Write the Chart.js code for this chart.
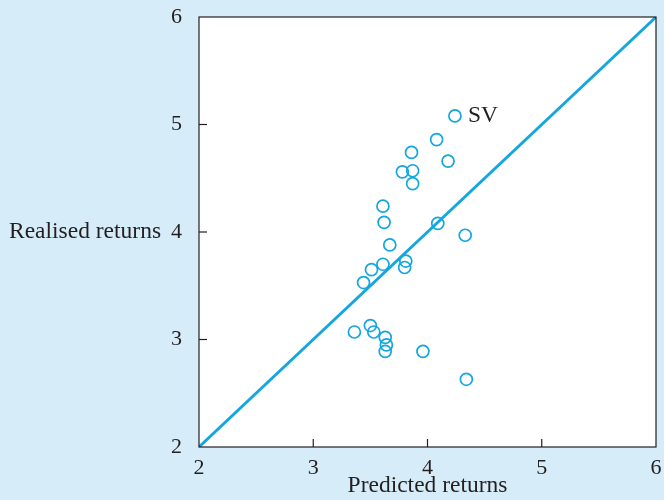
<!DOCTYPE html>
<html>
<head>
<meta charset="utf-8">
<script src="https://cdn.jsdelivr.net/npm/chart.js@4/dist/chart.umd.min.js"></script>
<style>
  html, body { margin: 0; padding: 0; background: #d6ecf9; }
  #wrap { width: 664px; height: 500px; }
</style>
</head>
<body>
<div id="wrap"><canvas id="chart" width="664" height="500"></canvas></div>
<script>
// values
const predicted = [4.24, 4.08, 3.86, 4.18, 3.78, 3.87, 3.87, 3.61, 3.62, 4.09, 4.33, 3.67, 3.81, 3.80, 3.61, 3.51, 3.44, 3.36, 3.50, 3.53, 3.63, 3.64, 3.63, 3.96, 4.34]
const realised = [5.08, 4.86, 4.74, 4.66, 4.56, 4.57, 4.45, 4.24, 4.09, 4.08, 3.97, 3.88, 3.73, 3.67, 3.70, 3.65, 3.53, 3.07, 3.13, 3.07, 3.02, 2.95, 2.89, 2.89, 2.63]
const pointNames = ["SV"]
const tickValues = [2, 3, 4, 5, 6]
const diagonal = [2, 6]

const blue = "#13a6df"
const ink = "#231f20"
const serif = "'Liberation Serif', 'DejaVu Serif', serif"

const points = predicted.map((x, i) => ({ x: x, y: realised[i] }))

const framePlugin = {
  id: "frame",
  beforeDraw(chart) {
    const { ctx, chartArea: a } = chart
    ctx.save()
    ctx.fillStyle = "#ffffff"
    ctx.fillRect(a.left, a.top, a.right - a.left, a.bottom - a.top)
    ctx.restore()
  },
  afterDraw(chart) {
    const { ctx, chartArea: a, scales } = chart
    ctx.save()
    ctx.strokeStyle = ink
    ctx.lineWidth = 1.2
    ctx.strokeRect(a.left, a.top, a.right - a.left, a.bottom - a.top)

    // inward ticks
    tickValues.slice(1, -1).forEach(v => {
      const px = scales.x.getPixelForValue(v)
      ctx.beginPath()
      ctx.moveTo(px, a.bottom)
      ctx.lineTo(px, a.bottom - 8)
      ctx.stroke()
      const py = scales.y.getPixelForValue(v)
      ctx.beginPath()
      ctx.moveTo(a.left, py)
      ctx.lineTo(a.left + 8, py)
      ctx.stroke()
    })

    // horizontal y title
    ctx.fillStyle = ink
    ctx.font = "23.5px " + serif
    ctx.textAlign = "left"
    ctx.textBaseline = "middle"
    ctx.fillText("Realised returns", 9, scales.y.getPixelForValue(4))

    // point name
    const sv = chart.getDatasetMeta(0).data[0]
    ctx.fillText(pointNames[0], sv.x + 13, sv.y)
    ctx.restore()
  }
}

new Chart(document.querySelector("#chart"), {
  type: "scatter",
  data: {
    datasets: [
      {
        data: points,
        pointStyle: "circle",
        pointRadius: 6,
        pointBorderWidth: 1.7,
        borderColor: blue,
        backgroundColor: "rgba(255,255,255,0)",
      },
      {
        type: "line",
        data: diagonal.map(v => ({ x: v, y: v })),
        borderColor: blue,
        borderWidth: 2.8,
        pointRadius: 0,
        fill: false,
      },
    ]
  },
  plugins: [framePlugin],
  options: {
    responsive: false,
    animation: false,
    layout: { padding: { top: 17, right: 8, left: 0, bottom: 0 } },
    plugins: {
      legend: { display: false },
      tooltip: { enabled: false },
    },
    scales: {
      x: {
        type: "linear",
        min: 2,
        max: 6,
        afterFit: scale => {
          scale.height = 53
          scale.paddingLeft = 0
          scale.paddingRight = 0
        },
        afterBuildTicks: scale => { scale.ticks = tickValues.map(v => ({ value: v })) },
        grid: { display: false },
        border: { display: false },
        ticks: { color: ink, font: { family: serif, size: 22 }, padding: 0 },
        title: { display: true, text: "Predicted returns", color: ink, font: { family: serif, size: 23.5 }, padding: { top: -3, bottom: 0 } },
      },
      y: {
        type: "linear",
        min: 2,
        max: 6,
        afterFit: scale => {
          scale.width = 199
          scale.paddingTop = 0
          scale.paddingBottom = 0
        },
        afterBuildTicks: scale => { scale.ticks = tickValues.map(v => ({ value: v })) },
        grid: { display: false },
        border: { display: false },
        ticks: { color: ink, font: { family: serif, size: 22 }, padding: 9 },
      },
    }
  }
});
</script>
</body>
</html>
